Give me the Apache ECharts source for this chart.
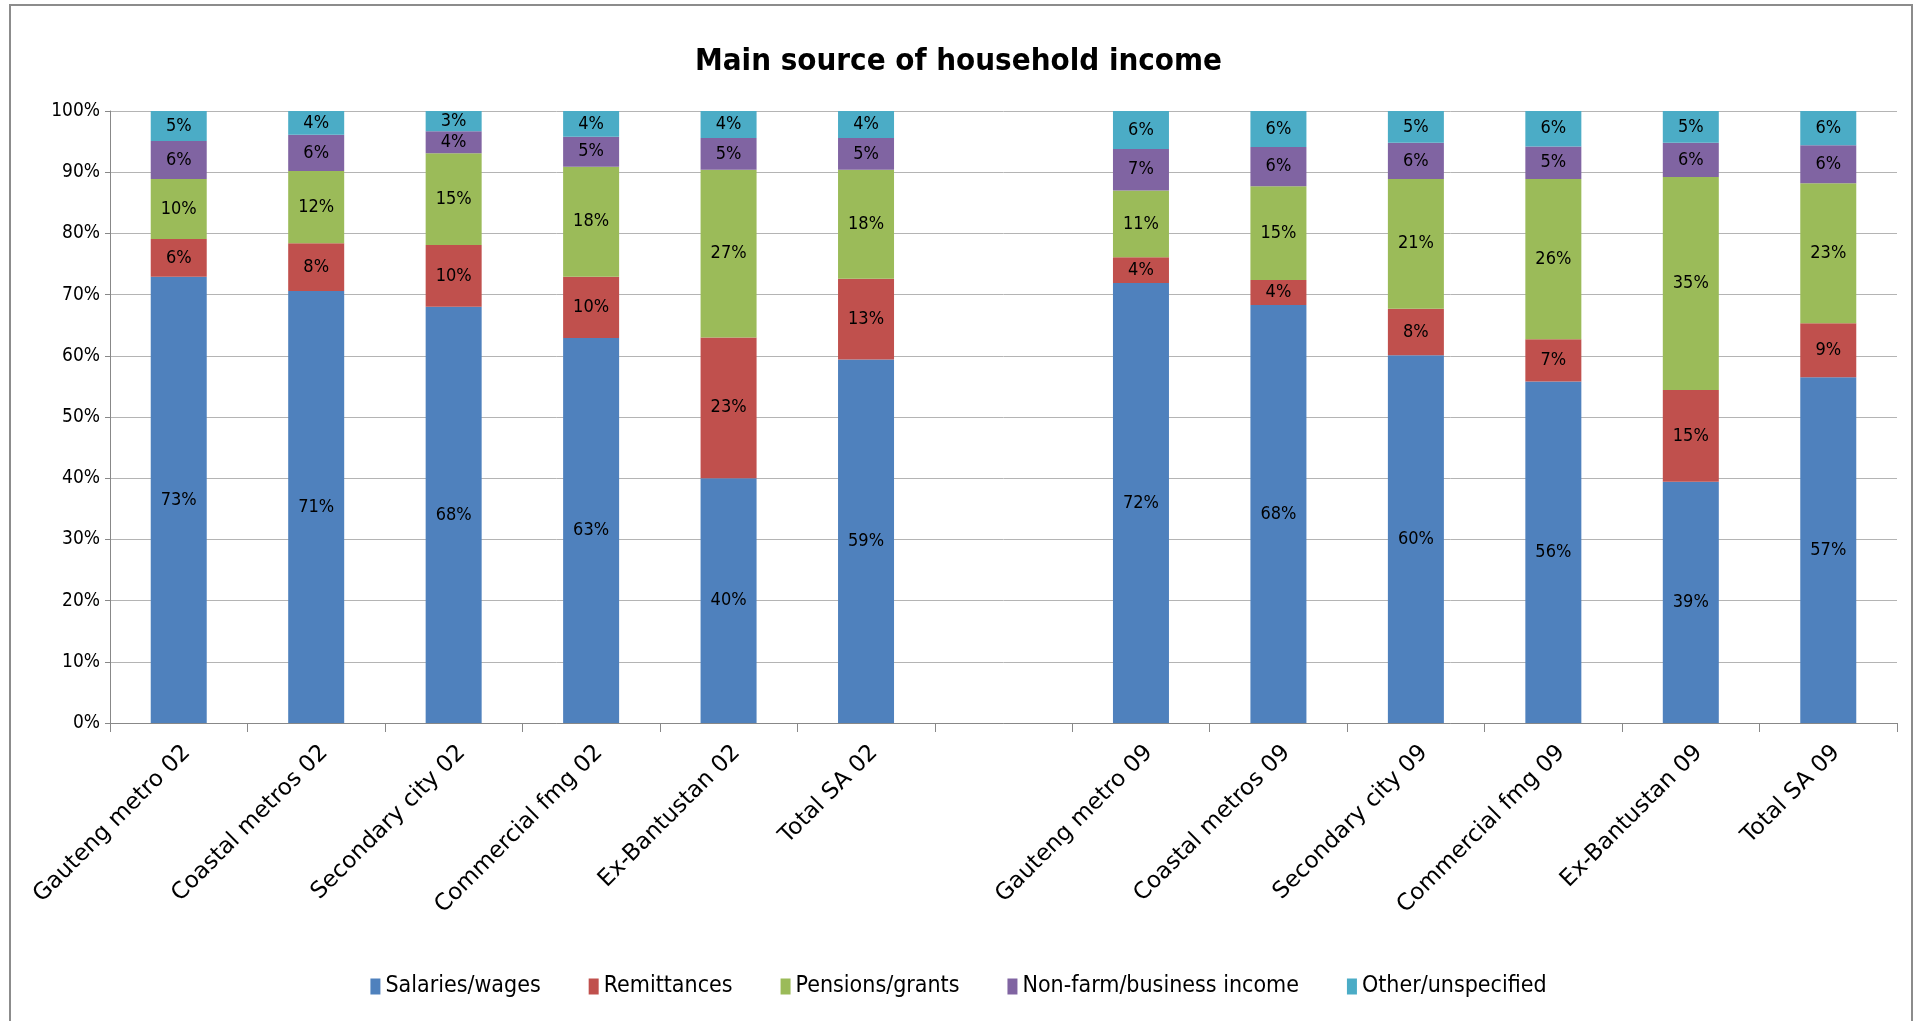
<!DOCTYPE html>
<html>
<head>
<meta charset="utf-8">
<style>
    html, body { margin: 0; padding: 0; background: #fff; }
    #chart { width: 1917px; height: 1021px; }
</style>
<script src="https://cdn.jsdelivr.net/npm/echarts@6/dist/echarts.min.js"></script>
</head>
<body>
<div id="chart"></div>
<script>
// categories, with one empty slot between the 2002 and 2009 groups
const categories = [
    'Gauteng metro 02', 'Coastal metros 02', 'Secondary city 02', 'Commercial fmg 02', 'Ex-Bantustan 02', 'Total SA 02',
    '',
    'Gauteng metro 09', 'Coastal metros 09', 'Secondary city 09', 'Commercial fmg 09', 'Ex-Bantustan 09', 'Total SA 09',
]

// shares in %
const salaries = [72.9, 70.6, 68.0, 62.9, 40.0, 59.4, null, 71.9, 68.3, 60.1, 55.8, 39.4, 56.5]
const remittances = [6.2, 7.8, 10.1, 10.0, 23.0, 13.2, null, 4.2, 4.1, 7.6, 6.9, 15.0, 8.8]
const pensions = [9.8, 11.8, 15.0, 18.0, 27.4, 17.8, null, 10.9, 15.3, 21.2, 26.2, 34.8, 22.9]
const nonFarm = [6.2, 5.9, 3.6, 4.9, 5.2, 5.2, null, 6.8, 6.4, 5.9, 5.3, 5.6, 6.2]
const other = [4.9, 3.9, 3.3, 4.2, 4.4, 4.4, null, 6.2, 5.9, 5.2, 5.8, 5.2, 5.6]

const yTicks = [0, 10, 20, 30, 40, 50, 60, 70, 80, 90, 100]

const FONT = '"Liberation Sans Narrow", "DejaVu Sans Condensed", sans-serif'

function makeSeries(name, data, color) {
    return {
        name: name,
        type: 'bar',
        stack: 'income',
        barWidth: 56,
        data: data,
        itemStyle: { color: color },
        label: {
            show: true,
            position: 'inside',
            color: '#000',
            fontFamily: FONT,
            fontSize: 18,
            formatter: p => (p.value == null ? '' : Math.round(p.value) + '%'),
        },
    }
}

const chart = echarts.init(document.getElementById('chart'))
chart.setOption({
    animation: false,
    backgroundColor: '#fff',
    title: {
        text: 'Main source of household income',
        left: 'center',
        top: 41,
        textStyle: {
            fontFamily: FONT,
            fontWeight: 'bold',
            fontSize: 31,
            color: '#000',
        },
    },
    graphic: [{
        type: 'rect',
        shape: { x: 10, y: 5, width: 1902, height: 1040 },
        style: { fill: 'none', stroke: '#8c8c8c', lineWidth: 2 },
        silent: true,
    }],
    legend: {
        bottom: 18,
        left: 'center',
        itemWidth: 10,
        itemHeight: 16,
        itemGap: 48,
        icon: 'rect',
        textStyle: { fontFamily: FONT, fontSize: 23, color: '#000' },
        data: ['Salaries/wages', 'Remittances', 'Pensions/grants', 'Non-farm/business income', 'Other/unspecified'],
    },
    grid: {
        left: 110,
        right: 20,
        top: 111,
        bottom: 298,
    },
    xAxis: {
        type: 'category',
        data: categories,
        axisLine: { lineStyle: { color: '#888', width: 1 } },
        axisTick: { show: true, length: 9, lineStyle: { color: '#888' } },
        axisLabel: {
            rotate: 45,
            interval: 0,
            margin: 18,
            verticalAlign: 'top',
            fontFamily: '"DejaVu Sans", sans-serif',
            fontSize: 23,
            color: '#000',
        },
    },
    yAxis: {
        type: 'value',
        min: 0,
        max: 100,
        interval: 10,
        axisLine: { show: true, lineStyle: { color: '#888' } },
        axisTick: { show: true, length: 5, lineStyle: { color: '#888' } },
        splitLine: { lineStyle: { color: '#b4b4b4' } },
        axisLabel: {
            margin: 10,
            fontFamily: FONT,
            fontSize: 19,
            color: '#000',
            formatter: v => (yTicks.includes(v) ? v + '%' : ''),
        },
    },
    series: [
        makeSeries('Salaries/wages', salaries, '#4F81BD'),
        makeSeries('Remittances', remittances, '#C0504D'),
        makeSeries('Pensions/grants', pensions, '#9BBB59'),
        makeSeries('Non-farm/business income', nonFarm, '#8064A2'),
        makeSeries('Other/unspecified', other, '#4BACC6'),
    ],
})
</script>
</body>
</html>
